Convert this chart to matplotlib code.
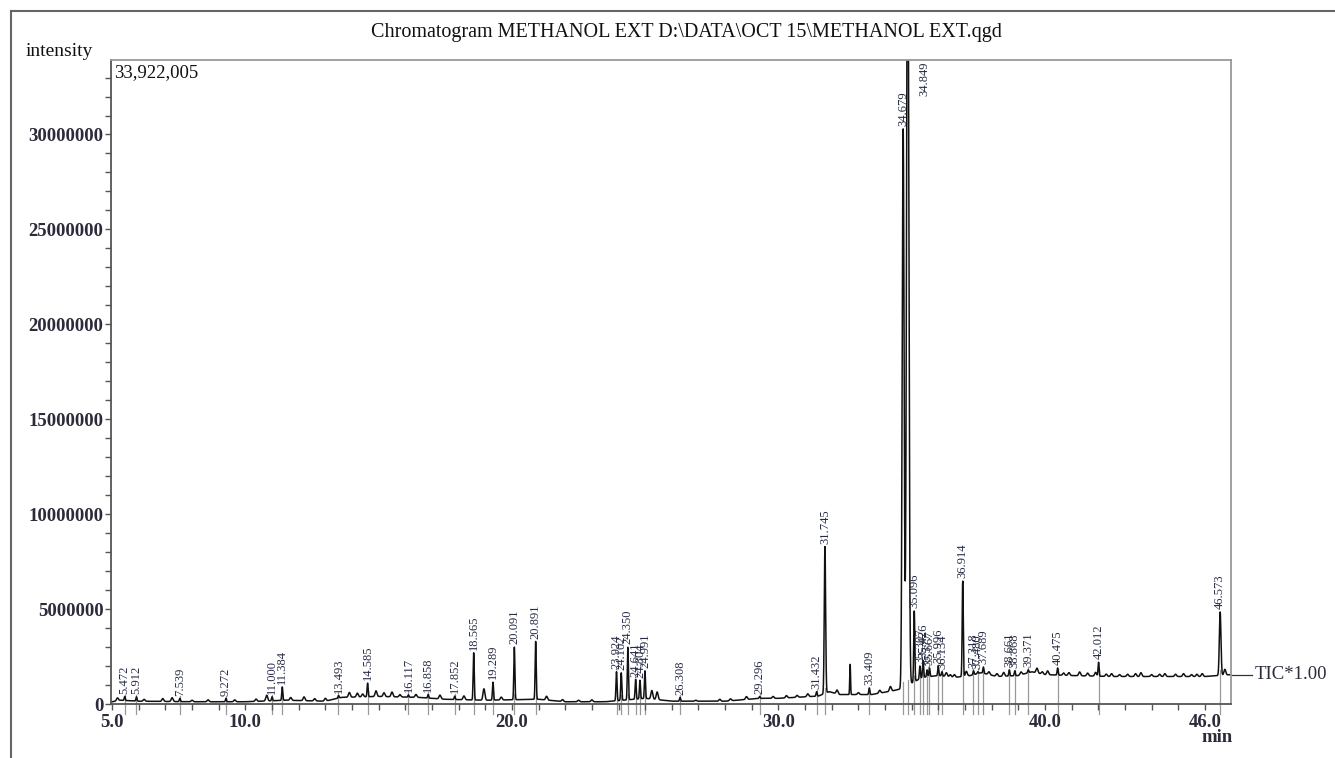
import numpy as np
import matplotlib.pyplot as plt
from matplotlib.ticker import FixedLocator, MultipleLocator

plt.rcParams['font.family'] = ['Liberation Serif', 'DejaVu Serif']

# Labelled peaks: retention time (min) and apex intensity (millions)
peak_rt = [5.472, 5.912, 7.539, 9.272, 11.000, 11.384, 13.493, 14.585, 16.117,
           16.858, 17.852, 18.565, 19.289, 20.091, 20.891, 23.924, 24.102,
           24.350, 24.641, 24.804, 24.991, 26.308, 29.296, 31.432, 31.745,
           33.409, 34.679, 34.849, 35.096, 35.307, 35.426, 35.577, 35.667,
           35.996, 36.134, 36.914, 37.318, 37.480, 37.689, 38.661, 38.868,
           39.371, 40.475, 42.012, 46.573]
peak_top = [0.40, 0.38, 0.30, 0.30, 0.38, 0.90, 0.45, 1.10, 0.48,
            0.50, 0.42, 2.70, 1.15, 3.00, 3.30, 1.70, 1.65,
            3.00, 1.30, 1.25, 1.75, 0.35, 0.40, 0.65, 8.30,
            0.85, 30.30, 45.0, 4.90, 2.00, 2.30, 1.80, 1.90,
            2.00, 1.70, 6.50, 1.75, 1.70, 1.95, 1.80, 1.75,
            1.80, 1.90, 2.20, 4.85]
peak_sigma = {34.679: 0.035, 34.849: 0.04, 31.745: 0.025, 46.573: 0.03}

# Unlabelled small peaks / noise bumps: time and height above baseline (millions)
bump_rt = [5.2, 6.2, 6.9, 7.25, 8.0, 8.6, 9.6, 10.4, 10.8, 11.7, 12.2, 12.6, 13.0,
           13.9, 14.2, 14.4, 14.9, 15.2, 15.5, 15.8, 16.4, 17.3, 18.2, 18.95, 19.6,
           21.3, 21.9, 22.5, 23.0, 25.25, 25.45, 26.9, 27.8, 28.2, 28.8, 29.8,
           30.3, 30.7, 31.1, 32.2, 32.69, 33.0, 33.8, 34.2, 36.3, 36.45, 36.6,
           37.05, 37.9, 38.2, 38.45, 39.1, 39.7, 39.9, 40.1, 40.7, 40.9, 41.3,
           41.6, 41.9, 42.3, 42.5, 42.8, 43.1, 43.4, 43.6, 44.0, 44.3, 44.5,
           44.9, 45.2, 45.5, 45.7, 45.9, 46.75]
bump_h = [0.15, 0.10, 0.15, 0.20, 0.08, 0.10, 0.10, 0.12, 0.30, 0.15, 0.20, 0.12, 0.15,
          0.25, 0.20, 0.15, 0.30, 0.20, 0.25, 0.12, 0.15, 0.20, 0.20, 0.60, 0.15,
          0.20, 0.10, 0.08, 0.10, 0.45, 0.40, 0.05, 0.10, 0.10, 0.15, 0.10,
          0.12, 0.10, 0.15, 0.20, 1.60, 0.10, 0.15, 0.25, 0.20, 0.12, 0.15,
          0.25, 0.15, 0.15, 0.20, 0.15, 0.25, 0.12, 0.20, 0.12, 0.15, 0.20,
          0.15, 0.20, 0.12, 0.15, 0.10, 0.12, 0.15, 0.20, 0.10, 0.12, 0.15,
          0.12, 0.15, 0.10, 0.12, 0.15, 0.30]

# Baseline readings (min, millions)
base_t = [4.94, 5.3, 6.0, 8.0, 10.0, 11.5, 13.0, 13.6, 15.0, 16.5, 17.5, 19.0, 21.0,
          22.0, 23.5, 25.0, 26.0, 28.0, 29.3, 30.0, 31.5, 31.9, 32.3, 33.5, 34.3,
          34.6, 35.0, 35.4, 36.0, 36.6, 37.2, 37.6, 38.2, 39.0, 39.5, 40.0, 41.0,
          42.5, 44.0, 46.0, 46.5, 46.98]
base_v = [0.10, 0.20, 0.15, 0.12, 0.12, 0.20, 0.15, 0.35, 0.40, 0.35, 0.25, 0.20, 0.25,
          0.12, 0.12, 0.30, 0.15, 0.15, 0.30, 0.30, 0.42, 0.65, 0.50, 0.50, 0.70,
          0.80, 1.10, 1.40, 1.50, 1.40, 1.50, 1.65, 1.45, 1.50, 1.70, 1.55, 1.50,
          1.45, 1.45, 1.45, 1.50, 1.55]

ymax = 33922005
xmin, xmax = 4.94, 46.98

t = np.arange(xmin, xmax, 0.004)
sig = np.interp(t, base_t, base_v)
for rt, top in zip(peak_rt, peak_top):
    s = peak_sigma.get(rt, 0.02)
    sig += (top - np.interp(rt, base_t, base_v)) * np.exp(-0.5 * ((t - rt) / s) ** 2)
for rt, h in zip(bump_rt, bump_h):
    s = 0.015 if rt == 32.69 else 0.035
    sig += h * np.exp(-0.5 * ((t - rt) / s) ** 2)
sig *= 1e6

fig = plt.figure(figsize=(13.35, 7.58), dpi=100)
ax = fig.add_axes([0.0828, 0.0712, 0.8393, 0.8496])

ax.plot(t, sig, color='#111111', lw=1.1)

# peak marker ticks and labels (read bottom to top)
lab_col = '#262b45'
for rt, top in zip(peak_rt, peak_top):
    b = np.interp(rt, base_t, base_v)
    ax.plot([rt, rt], [-0.55e6, (b + 0.3) * 1e6], color='#999999', lw=0.9,
            clip_on=False, zorder=1)
    lab = f'{rt:.3f}'
    if top * 1e6 > ymax:
        ax.annotate(lab, (rt, ymax), xytext=(8, -1), textcoords='offset points',
                    rotation=90, ha='left', va='top', fontsize=9, color=lab_col)
    else:
        ax.annotate(lab, (rt, top * 1e6), xytext=(0, 2), textcoords='offset points',
                    rotation=90, ha='center', va='bottom', fontsize=9, color=lab_col)

ax.set_xlim(xmin, xmax)
ax.set_ylim(0, ymax)

tick_col = '#2b2b3a'
ax.xaxis.set_major_locator(FixedLocator([5, 10, 20, 30, 40, 46]))
ax.set_xticklabels(['5.0', '10.0', '20.0', '30.0', '40.0', '46.0'])
ax.xaxis.set_minor_locator(MultipleLocator(1))
ax.yaxis.set_major_locator(MultipleLocator(5000000))
ax.yaxis.set_minor_locator(MultipleLocator(1000000))
ax.yaxis.set_major_formatter(plt.FuncFormatter(lambda v, p: f'{int(v)}'))
ax.tick_params(which='both', direction='out', colors='#555555',
               labelcolor=tick_col, labelsize=13.5)
ax.tick_params(which='major', length=4, width=1)
ax.tick_params(which='minor', length=4, width=1)
ax.tick_params(axis='y', pad=1)
ax.tick_params(axis='x', pad=3)
for lbl in ax.get_xticklabels() + ax.get_yticklabels():
    lbl.set_fontweight('bold')

for side in ['left', 'bottom']:
    ax.spines[side].set_color('#555555')
    ax.spines[side].set_linewidth(1.3)
for side in ['top', 'right']:
    ax.spines[side].set_color('#999999')
    ax.spines[side].set_linewidth(1.3)

ax.text(0.003, 0.994, '33,922,005', transform=ax.transAxes, ha='left', va='top',
        fontsize=13.5, color='#111111')

# TIC tag at the end of the trace
yend = sig[-1]
ax.plot([xmax, 47.78], [yend, yend], color='#333333', lw=0.9, clip_on=False)
ax.text(47.85, yend, 'TIC*1.00', ha='left', va='center', fontsize=13.5,
        color='#2b2b3a', clip_on=False)

fig.text(1217 / 1335, 1 - 738 / 758, 'min', ha='center', va='center',
         fontsize=13.5, fontweight='bold', color=tick_col)
fig.text(59 / 1335, 1 - 52 / 758, 'intensity', ha='center', va='center',
         fontsize=14, color='#111111')
fig.text(686 / 1335, 1 - 32 / 758,
         'Chromatogram METHANOL EXT D:\\DATA\\OCT 15\\METHANOL EXT.qgd',
         ha='center', va='center', fontsize=14.5, color='#111111')

# outer frame (top and left edges)
fig.add_artist(plt.Line2D([11 / 1335, 1], [1 - 10.5 / 758] * 2, color='#666666',
                          lw=1.5, transform=fig.transFigure))
fig.add_artist(plt.Line2D([11 / 1335] * 2, [0, 1 - 10.5 / 758], color='#666666',
                          lw=1.5, transform=fig.transFigure))

fig.savefig('out.png', dpi=100)
